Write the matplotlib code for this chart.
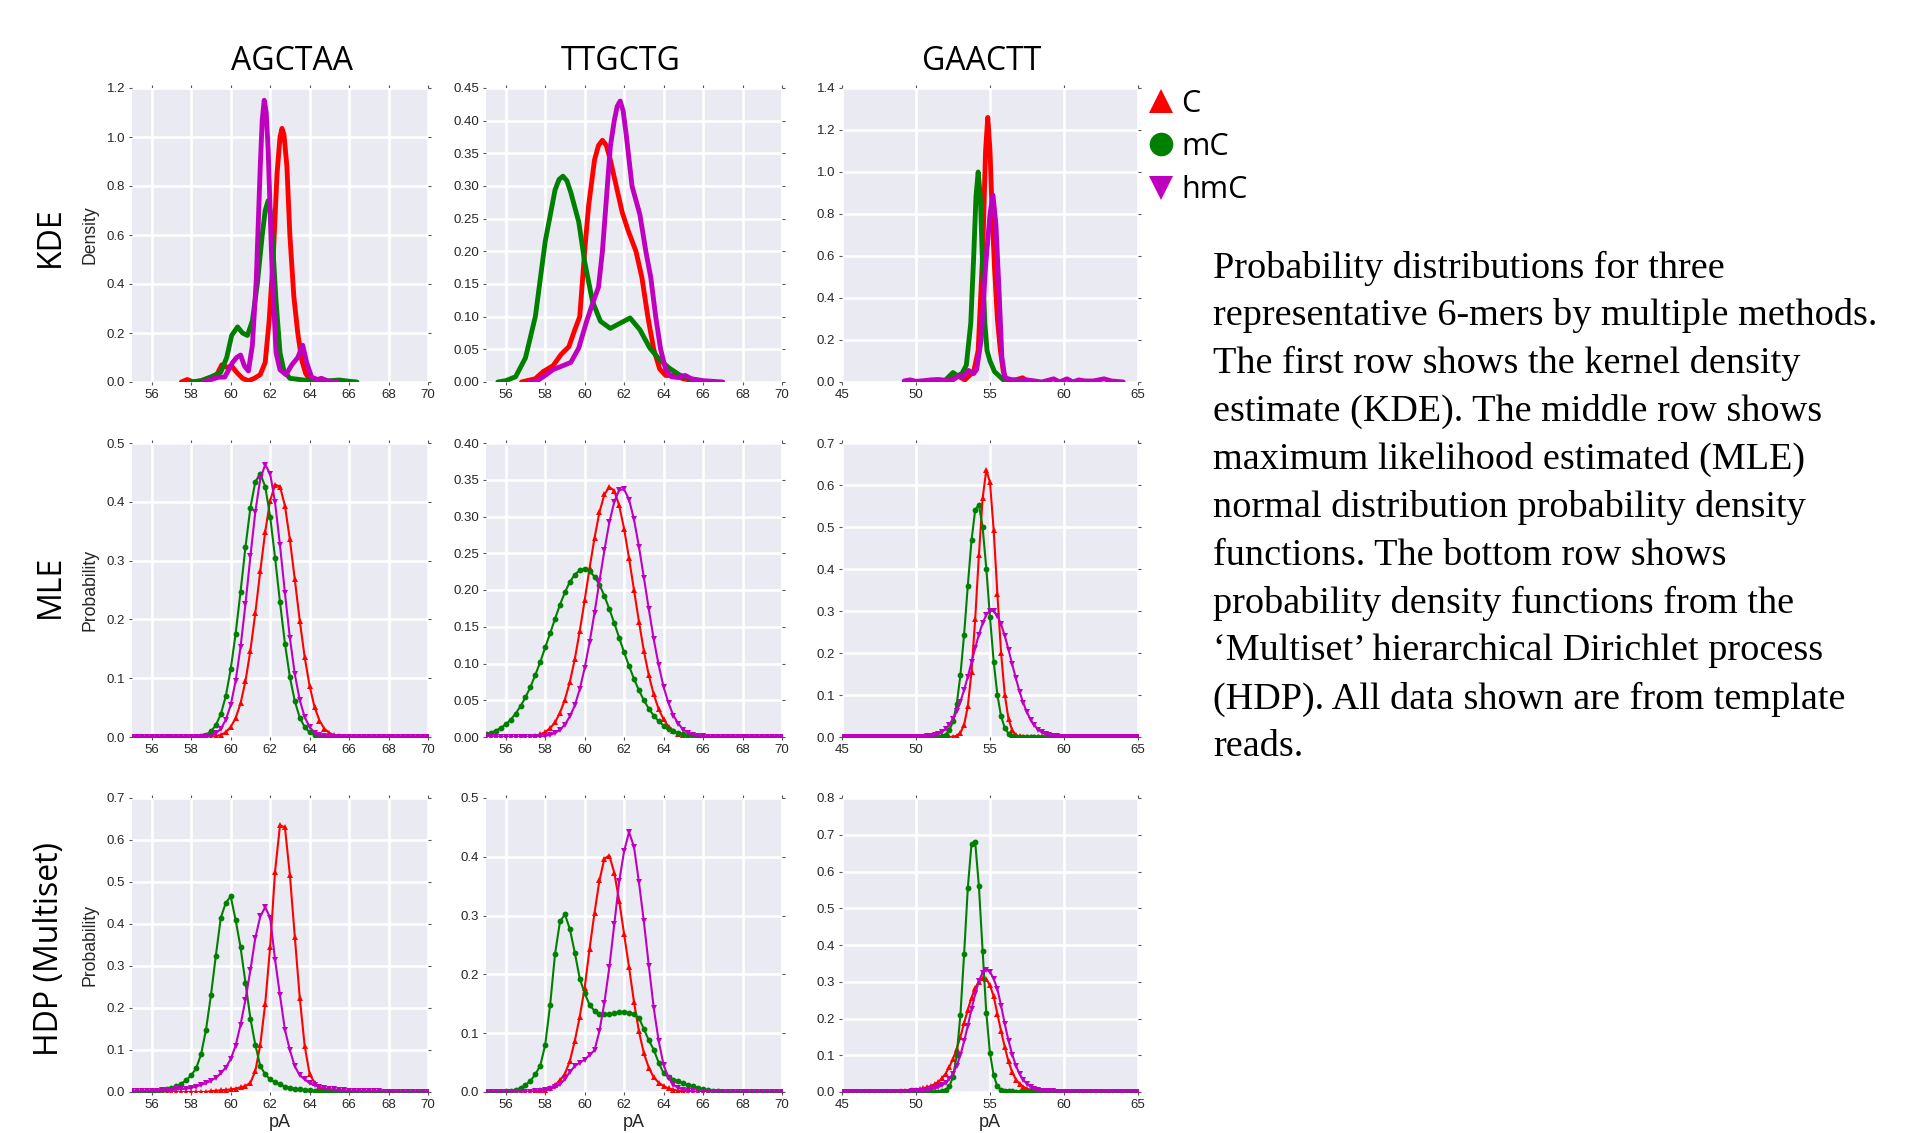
import numpy as np
import matplotlib
matplotlib.use('Agg')
import matplotlib.pyplot as plt
from matplotlib.lines import Line2D
from matplotlib.ticker import FormatStrFormatter

kmers = ['AGCTAA', 'TTGCTG', 'GAACTT']
methods = ['KDE', 'MLE', 'HDP (Multiset)']
ylabels = ['Density', 'Probability', 'Probability']
series = ['C', 'mC', 'hmC']
STEP = 0.25  # sample spacing (pA) of the marker curves

# ---- KDE curves, points ----
kde_agctaa_c_x = [57.5, 57.8, 58.1, 58.5, 59.0, 59.3, 59.55, 59.8, 60.05, 60.3, 60.6, 60.9, 61.2, 61.5,
                  61.75, 61.95, 62.15, 62.35, 62.5, 62.6, 62.7, 62.85, 63.0, 63.2, 63.4, 63.6, 63.8, 64.0, 64.3]
kde_agctaa_c_y = [0.0, 0.01, 0.0, 0.005, 0.02, 0.03, 0.07, 0.06, 0.065, 0.04, 0.015, 0.005, 0.015, 0.03,
                  0.08, 0.25, 0.5, 0.85, 1.0, 1.035, 1.01, 0.88, 0.6, 0.35, 0.2, 0.09, 0.035, 0.01, 0.0]
kde_agctaa_mc_x = [58.0, 58.5, 59.0, 59.5, 59.8, 60.05, 60.35, 60.6, 60.85, 61.1, 61.35, 61.6, 61.75, 61.9,
                   62.0, 62.1, 62.3, 62.5, 62.7, 63.0, 63.5, 64.0, 64.5, 65.0, 65.5, 66.0, 66.4]
kde_agctaa_mc_y = [0.0, 0.005, 0.02, 0.04, 0.1, 0.19, 0.225, 0.2, 0.19, 0.25, 0.4, 0.6, 0.7, 0.74,
                   0.7, 0.6, 0.33, 0.12, 0.045, 0.015, 0.01, 0.005, 0.003, 0.005, 0.008, 0.003, 0.0]
kde_agctaa_hmc_x = [58.6, 59.0, 59.4, 59.7, 59.9, 60.1, 60.3, 60.5, 60.7, 60.9, 61.1, 61.3, 61.5, 61.6,
                    61.7, 61.8, 61.9, 62.1, 62.3, 62.5, 62.8, 63.1, 63.4, 63.65, 63.85, 64.1, 64.4, 64.6,
                    64.9, 65.4]
kde_agctaa_hmc_y = [0.0, 0.01, 0.02, 0.02, 0.05, 0.08, 0.1, 0.11, 0.065, 0.045, 0.15, 0.42, 0.88, 1.07,
                    1.15, 1.1, 0.95, 0.45, 0.12, 0.05, 0.03, 0.07, 0.1, 0.15, 0.08, 0.02, 0.01, 0.015,
                    0.005, 0.0]

kde_ttgctg_c_x = [56.8, 57.5, 57.9, 58.4, 58.8, 59.2, 59.5, 59.75, 60.0, 60.2, 60.5, 60.7, 60.9, 61.1,
                  61.3, 61.6, 61.9, 62.2, 62.6, 62.9, 63.2, 63.5, 63.8, 64.1, 64.5, 65.0, 65.5, 66.0]
kde_ttgctg_c_y = [0.0, 0.005, 0.016, 0.025, 0.042, 0.054, 0.08, 0.1, 0.2, 0.27, 0.34, 0.362, 0.37, 0.362,
                  0.34, 0.3, 0.26, 0.232, 0.2, 0.16, 0.1, 0.05, 0.02, 0.01, 0.01, 0.005, 0.002, 0.0]
kde_ttgctg_mc_x = [55.6, 56.0, 56.5, 57.0, 57.5, 58.0, 58.5, 58.7, 58.9, 59.1, 59.3, 59.7, 60.0, 60.4,
                   60.8, 61.3, 61.8, 62.3, 62.8, 63.3, 63.8, 64.3, 64.8, 65.3, 66.0, 66.5]
kde_ttgctg_mc_y = [0.0, 0.002, 0.008, 0.037, 0.1, 0.215, 0.294, 0.31, 0.315, 0.308, 0.29, 0.245, 0.184, 0.123,
                   0.093, 0.082, 0.09, 0.098, 0.08, 0.052, 0.034, 0.021, 0.011, 0.005, 0.001, 0.0]
kde_ttgctg_hmc_x = [57.2, 57.6, 58.0, 58.4, 58.9, 59.3, 59.7, 60.1, 60.4, 60.7, 60.9, 61.1, 61.3, 61.5,
                    61.65, 61.8, 61.95, 62.1, 62.4, 62.8, 63.1, 63.35, 63.6, 63.85, 64.1, 64.4, 64.7,
                    65.1, 65.4, 66.0, 67.0]
kde_ttgctg_hmc_y = [0.0, 0.002, 0.01, 0.019, 0.025, 0.03, 0.052, 0.093, 0.12, 0.145, 0.2, 0.28, 0.36, 0.4,
                    0.422, 0.43, 0.415, 0.38, 0.3, 0.256, 0.2, 0.16, 0.1, 0.05, 0.02, 0.008, 0.007,
                    0.01, 0.005, 0.002, 0.0]

kde_gaactt_c_x = [51.0, 52.0, 52.8, 53.3, 53.6, 53.9, 54.2, 54.5, 54.7, 54.85, 55.0, 55.15, 55.3, 55.5,
                  55.7, 55.9, 56.1, 56.5, 57.2, 57.5, 58.0]
kde_gaactt_c_y = [0.0, 0.005, 0.03, 0.01, 0.03, 0.05, 0.15, 0.6, 1.1, 1.26, 1.1, 0.8, 0.55, 0.3,
                  0.15, 0.05, 0.01, 0.005, 0.02, 0.005, 0.0]
kde_gaactt_mc_x = [51.5, 52.0, 52.5, 52.8, 53.1, 53.4, 53.7, 53.9, 54.05, 54.2, 54.35, 54.5, 54.65, 54.8,
                   55.0, 55.3, 55.6, 55.9, 56.2, 56.6, 57.2, 58.0]
kde_gaactt_mc_y = [0.0, 0.01, 0.045, 0.03, 0.04, 0.08, 0.28, 0.6, 0.88, 1.0, 0.88, 0.55, 0.28, 0.15,
                   0.1, 0.05, 0.03, 0.01, 0.005, 0.01, 0.005, 0.0]
kde_gaactt_hmc_x = [49.2, 49.6, 50.0, 50.5, 51.0, 51.5, 52.0, 52.5, 52.9, 53.2, 53.55, 53.9, 54.1, 54.4,
                    54.7, 55.0, 55.2, 55.4, 55.6, 55.8, 56.0, 56.5, 57.0, 57.5, 58.0, 58.5, 59.3, 59.7,
                    60.2, 60.6, 61.0, 61.4, 62.0, 62.7, 63.2, 64.0]
kde_gaactt_hmc_y = [0.005, 0.01, 0.003, 0.006, 0.01, 0.012, 0.008, 0.01, 0.03, 0.025, 0.055, 0.04, 0.06, 0.2,
                    0.55, 0.8, 0.89, 0.75, 0.45, 0.12, 0.02, 0.01, 0.005, 0.01, 0.005, 0.0, 0.015, 0.0,
                    0.015, 0.0, 0.01, 0.005, 0.005, 0.015, 0.005, 0.0]

# ---- MLE curves: first x, then one reading every STEP pA (zero elsewhere) ----
mle_agctaa_c_start = 59.0
mle_agctaa_c = [0.0006, 0.0015, 0.0036, 0.008, 0.017, 0.032, 0.057, 0.095, 0.147, 0.211, 0.282, 0.349, 0.402,
                0.429, 0.426, 0.393, 0.336, 0.268, 0.198, 0.136, 0.087, 0.051, 0.028, 0.014, 0.007, 0.003, 0.001]
mle_agctaa_mc_start = 58.5
mle_agctaa_mc = [0.0017, 0.004, 0.0095, 0.020, 0.039, 0.069, 0.115, 0.175, 0.247, 0.323, 0.390, 0.434, 0.448,
                 0.426, 0.375, 0.305, 0.229, 0.159, 0.102, 0.061, 0.033, 0.017, 0.008, 0.0034, 0.0014]
mle_agctaa_hmc_start = 58.75
mle_agctaa_hmc = [0.0009, 0.0025, 0.006, 0.014, 0.029, 0.054, 0.095, 0.153, 0.226, 0.307, 0.383, 0.439, 0.463,
                  0.448, 0.399, 0.326, 0.245, 0.169, 0.107, 0.063, 0.034, 0.017, 0.0075, 0.003, 0.0012]

mle_ttgctg_c_start = 57.5
mle_ttgctg_c = [0.0018, 0.0036, 0.0067, 0.012, 0.020, 0.033, 0.051, 0.075, 0.106, 0.144, 0.186, 0.230, 0.271,
                0.306, 0.330, 0.340, 0.335, 0.315, 0.283, 0.243, 0.200, 0.157, 0.117, 0.084, 0.058, 0.038,
                0.024, 0.014, 0.008, 0.0044, 0.0023, 0.0011]
mle_ttgctg_mc_start = 55.0
mle_ttgctg_mc = [0.0040, 0.0059, 0.0086, 0.0123, 0.0173, 0.0237, 0.0318, 0.0419, 0.054, 0.068, 0.0845, 0.102,
                 0.122, 0.141, 0.161, 0.180, 0.197, 0.211, 0.221, 0.227, 0.229, 0.226, 0.218, 0.207, 0.192,
                 0.174, 0.155, 0.135, 0.115, 0.0965, 0.079, 0.0635, 0.050, 0.0385, 0.029, 0.0215, 0.0156,
                 0.011, 0.0077, 0.0052, 0.0035, 0.0023, 0.0015, 0.0009, 0.0006]
mle_ttgctg_hmc_start = 58.0
mle_ttgctg_hmc = [0.0015, 0.0029, 0.0055, 0.0098, 0.017, 0.028, 0.043, 0.065, 0.094, 0.129, 0.169, 0.212,
                  0.254, 0.292, 0.320, 0.336, 0.337, 0.323, 0.296, 0.259, 0.217, 0.174, 0.133, 0.098, 0.068,
                  0.046, 0.029, 0.018, 0.010, 0.0059, 0.0031, 0.0016, 0.0008]

mle_gaactt_c_start = 52.5
mle_gaactt_c = [0.0007, 0.0029, 0.010, 0.029, 0.073, 0.155, 0.281, 0.433, 0.568, 0.636, 0.606, 0.492, 0.340,
                0.200, 0.100, 0.043, 0.016, 0.0048, 0.0013]
mle_gaactt_mc_start = 51.5
mle_gaactt_mc = [0.0005, 0.0019, 0.0057, 0.0155, 0.037, 0.078, 0.147, 0.244, 0.360, 0.468, 0.541, 0.553, 0.500,
                 0.401, 0.285, 0.179, 0.100, 0.049, 0.0215, 0.0083, 0.0029, 0.0009]
mle_gaactt_hmc_start = 50.5
mle_gaactt_hmc = [0.0007, 0.0013, 0.0024, 0.0042, 0.0072, 0.0118, 0.0188, 0.0289, 0.0428, 0.061, 0.084, 0.112,
                  0.1435, 0.178, 0.212, 0.244, 0.271, 0.291, 0.301, 0.300, 0.289, 0.268, 0.241, 0.208, 0.173,
                  0.1395, 0.108, 0.081, 0.0586, 0.041, 0.0275, 0.0178, 0.0112, 0.0067, 0.0039, 0.0022,
                  0.0012, 0.0006]

# ---- HDP (Multiset) curves, same layout ----
hdp_agctaa_c_start = 59.0
hdp_agctaa_c = [0.002, 0.003, 0.004, 0.005, 0.006, 0.008, 0.011, 0.014, 0.022, 0.05, 0.112, 0.21, 0.345,
                0.525, 0.635, 0.63, 0.517, 0.37, 0.225, 0.11, 0.043, 0.022, 0.011, 0.006, 0.004, 0.003,
                0.002, 0.0015, 0.001]
hdp_agctaa_mc_start = 56.0
hdp_agctaa_mc = [0.002, 0.003, 0.005, 0.007, 0.01, 0.014, 0.02, 0.028, 0.04, 0.056, 0.09, 0.148, 0.23, 0.325,
                 0.415, 0.45, 0.466, 0.41, 0.345, 0.26, 0.175, 0.112, 0.062, 0.042, 0.03, 0.023, 0.018,
                 0.013, 0.01, 0.008, 0.006, 0.005, 0.004, 0.003, 0.003, 0.002, 0.002, 0.002, 0.001, 0.001, 0.001]
hdp_agctaa_hmc_start = 55.0
hdp_agctaa_hmc = [0.002, 0.002, 0.002, 0.003, 0.003, 0.003, 0.004, 0.004, 0.005, 0.006, 0.007, 0.008, 0.01,
                  0.013, 0.017, 0.021, 0.027, 0.034, 0.045, 0.058, 0.078, 0.11, 0.16, 0.22, 0.29, 0.367,
                  0.418, 0.44, 0.415, 0.315, 0.23, 0.148, 0.1, 0.061, 0.04, 0.03, 0.021, 0.016, 0.012,
                  0.009, 0.007, 0.006, 0.005, 0.004, 0.003, 0.003, 0.003, 0.003, 0.002, 0.002, 0.002,
                  0.001, 0.001]

hdp_ttgctg_c_start = 57.5
hdp_ttgctg_c = [0.002, 0.003, 0.004, 0.007, 0.012, 0.02, 0.031, 0.053, 0.087, 0.128, 0.177, 0.244, 0.305,
                0.36, 0.397, 0.402, 0.373, 0.325, 0.268, 0.212, 0.153, 0.103, 0.066, 0.041, 0.025, 0.016,
                0.01, 0.006, 0.004, 0.002, 0.001]
hdp_ttgctg_mc_start = 56.0
hdp_ttgctg_mc = [0.001, 0.002, 0.004, 0.007, 0.012, 0.019, 0.03, 0.045, 0.08, 0.148, 0.235, 0.29, 0.302,
                 0.277, 0.237, 0.193, 0.168, 0.148, 0.138, 0.133, 0.132, 0.132, 0.134, 0.136, 0.136, 0.135,
                 0.132, 0.126, 0.107, 0.088, 0.072, 0.05, 0.032, 0.025, 0.021, 0.018, 0.015, 0.012, 0.01,
                 0.007, 0.005, 0.003, 0.002, 0.001]
hdp_ttgctg_hmc_start = 57.5
hdp_ttgctg_hmc = [0.001, 0.002, 0.003, 0.005, 0.008, 0.013, 0.022, 0.034, 0.044, 0.05, 0.055, 0.063, 0.071,
                  0.104, 0.152, 0.212, 0.285, 0.358, 0.41, 0.442, 0.417, 0.357, 0.29, 0.215, 0.143, 0.087,
                  0.046, 0.024, 0.012, 0.007, 0.004, 0.002, 0.001]

hdp_gaactt_c_start = 49.0
hdp_gaactt_c = [0.002, 0.003, 0.004, 0.005, 0.006, 0.008, 0.01, 0.013, 0.016, 0.021, 0.027, 0.037, 0.05,
                0.068, 0.09, 0.118, 0.15, 0.187, 0.224, 0.257, 0.283, 0.3, 0.31, 0.307, 0.29, 0.26, 0.212,
                0.165, 0.122, 0.083, 0.054, 0.034, 0.022, 0.014, 0.009, 0.006, 0.004, 0.003, 0.002, 0.002,
                0.001]
hdp_gaactt_mc_start = 51.5
hdp_gaactt_mc = [0.001, 0.002, 0.006, 0.015, 0.041, 0.1, 0.21, 0.375, 0.555, 0.675, 0.68, 0.56, 0.385,
                 0.215, 0.105, 0.045, 0.015, 0.006, 0.003, 0.002, 0.002, 0.001, 0.001]
hdp_gaactt_hmc_start = 49.5
hdp_gaactt_hmc = [0.001, 0.002, 0.002, 0.003, 0.004, 0.005, 0.007, 0.01, 0.013, 0.018, 0.025, 0.036, 0.05,
                  0.072, 0.1, 0.138, 0.18, 0.225, 0.267, 0.302, 0.325, 0.333, 0.327, 0.308, 0.28, 0.235,
                  0.185, 0.14, 0.102, 0.072, 0.049, 0.033, 0.022, 0.014, 0.009, 0.006, 0.004, 0.003,
                  0.002, 0.0015]

caption = [
    "Probability distributions for three",
    "representative 6-mers by multiple methods.",
    "The first row shows the kernel density",
    "estimate (KDE). The middle row shows",
    "maximum likelihood estimated (MLE)",
    "normal distribution probability density",
    "functions. The bottom row shows",
    "probability density functions from the",
    "\u2018Multiset\u2019 hierarchical Dirichlet process",
    "(HDP). All data shown are from template",
    "reads.",
]

kde = [
    [(kde_agctaa_c_x, kde_agctaa_c_y), (kde_agctaa_mc_x, kde_agctaa_mc_y), (kde_agctaa_hmc_x, kde_agctaa_hmc_y)],
    [(kde_ttgctg_c_x, kde_ttgctg_c_y), (kde_ttgctg_mc_x, kde_ttgctg_mc_y), (kde_ttgctg_hmc_x, kde_ttgctg_hmc_y)],
    [(kde_gaactt_c_x, kde_gaactt_c_y), (kde_gaactt_mc_x, kde_gaactt_mc_y), (kde_gaactt_hmc_x, kde_gaactt_hmc_y)],
]
mle = [
    [(mle_agctaa_c_start, mle_agctaa_c), (mle_agctaa_mc_start, mle_agctaa_mc), (mle_agctaa_hmc_start, mle_agctaa_hmc)],
    [(mle_ttgctg_c_start, mle_ttgctg_c), (mle_ttgctg_mc_start, mle_ttgctg_mc), (mle_ttgctg_hmc_start, mle_ttgctg_hmc)],
    [(mle_gaactt_c_start, mle_gaactt_c), (mle_gaactt_mc_start, mle_gaactt_mc), (mle_gaactt_hmc_start, mle_gaactt_hmc)],
]
hdp = [
    [(hdp_agctaa_c_start, hdp_agctaa_c), (hdp_agctaa_mc_start, hdp_agctaa_mc), (hdp_agctaa_hmc_start, hdp_agctaa_hmc)],
    [(hdp_ttgctg_c_start, hdp_ttgctg_c), (hdp_ttgctg_mc_start, hdp_ttgctg_mc), (hdp_ttgctg_hmc_start, hdp_ttgctg_hmc)],
    [(hdp_gaactt_c_start, hdp_gaactt_c), (hdp_gaactt_mc_start, hdp_gaactt_mc), (hdp_gaactt_hmc_start, hdp_gaactt_hmc)],
]

# ---- styling ----
colors = ['#ff0000', '#008000', '#bf00bf']
markers = ['^', 'o', 'v']
xlims = [(55, 70), (55, 70), (45, 65)]
xtick_sets = [np.arange(56, 71, 2), np.arange(56, 71, 2), np.arange(45, 66, 5)]
ymax = [[1.2, 0.45, 1.4], [0.5, 0.40, 0.7], [0.7, 0.5, 0.8]]
ystep = [[0.2, 0.05, 0.2], [0.1, 0.05, 0.1], [0.1, 0.1, 0.1]]
ydec = [[1, 2, 1], [1, 2, 1], [1, 1, 1]]

plt.rcParams['font.family'] = ['Liberation Sans', 'DejaVu Sans']
W, H = 1908, 1133
fig = plt.figure(figsize=(W / 100, H / 100), dpi=100)
fig.patch.set_facecolor('white')

ax_left = [132, 486, 842]
ax_top = [88, 443, 798]
ax_w, ax_h = 296, 294


def on_grid(lim, start, vals):
    x = np.arange(lim[0], lim[1] + STEP / 2, STEP)
    y = np.zeros(len(x))
    i0 = int(round((start - lim[0]) / STEP))
    y[i0:i0 + len(vals)] = vals
    return x, y


for r in range(3):
    for c in range(3):
        ax = fig.add_axes([ax_left[c] / W, 1 - (ax_top[r] + ax_h) / H, ax_w / W, ax_h / H])
        ax.set_facecolor('#eaeaf2')
        for s in ax.spines.values():
            s.set_visible(False)
        ax.set_axisbelow(True)
        ax.grid(True, color='white', lw=1.9)

        for k in range(3):
            if r == 0:
                x, y = kde[c][k]
                ax.plot(x, y, color=colors[k], lw=3.5, solid_capstyle='round',
                        solid_joinstyle='round')
            else:
                start, vals = (mle if r == 1 else hdp)[c][k]
                x, y = on_grid(xlims[c], start, vals)
                ax.plot(x, y, ls='-', lw=1.5, marker=markers[k], ms=4.2, mew=0, color=colors[k])

        ax.set_xlim(*xlims[c])
        ax.set_xticks(xtick_sets[c])
        ax.set_ylim(0, ymax[r][c])
        ax.set_yticks(np.arange(0, ymax[r][c] + 1e-9, ystep[r][c]))
        ax.yaxis.set_major_formatter(FormatStrFormatter('%.' + str(ydec[r][c]) + 'f'))
        ax.tick_params(which='both', direction='out', length=2, width=0.8, color='#555555',
                       top=True, right=True, labelsize=9.5, labelcolor='#262626', pad=3)

        if c == 0:
            ax.set_ylabel(ylabels[r], fontsize=12.7, color='#262626')
            ax.yaxis.set_label_coords(-0.112, 0.5)
        if r == 2:
            ax.set_xlabel('pA', fontsize=13, color='#262626')
            ax.xaxis.set_label_coords(0.5, -0.075)

# column titles and row labels
title_x = [292, 621, 982]
for c, name in enumerate(kmers):
    fig.text(title_x[c] / W, 1 - 62 / H, name, fontsize=23, family='Open Sans',
             ha='center', va='center')
row_y = [237, 586, 949]
for r, name in enumerate(methods):
    fig.text(50 / W, 1 - row_y[r] / H, name, fontsize=23, family='Open Sans',
             rotation=90, ha='center', va='center')

# legend
handles = [Line2D([], [], ls='none', marker=markers[k], color=colors[k], ms=17, mew=0)
           for k in range(3)]
fig.legend(handles, series, loc='upper left', bbox_to_anchor=(1149 / W, 1 - 89 / H),
           frameon=False, prop={'family': 'Open Sans', 'size': 22}, handlelength=0.8,
           handletextpad=0.25, labelspacing=0.43, borderpad=0, borderaxespad=0)

# caption
for i, line in enumerate(caption):
    fig.text(1213 / W, 1 - (268 + i * 47.9) / H, line, fontsize=27.5,
             family='Liberation Serif', ha='left', va='center')

fig.savefig('out.png', dpi=100)
